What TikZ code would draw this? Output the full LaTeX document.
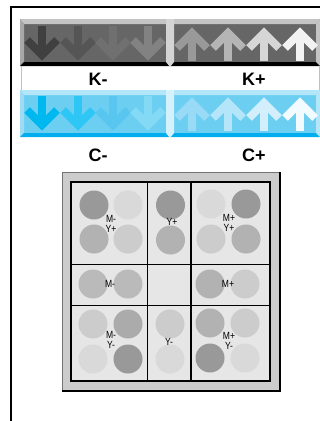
\documentclass[tikz,border=0pt]{standalone}
\usepackage{fontspec}
\setmainfont{Liberation Sans}
\newfontfamily\narrowfont[FakeStretch=0.82]{Liberation Sans}
\usepackage{xcolor}

% bar colours
\definecolor{kbase}{HTML}{666666}
\definecolor{ktop}{HTML}{C4C4C4}
\definecolor{kside}{HTML}{A8A8A8}
\definecolor{kbottom}{HTML}{000000}
\definecolor{kdiv}{HTML}{D4D4D4}
\definecolor{cbase}{HTML}{6CCFF2}
\definecolor{ctop}{HTML}{B2E6F8}
\definecolor{cside}{HTML}{9EDCF5}
\definecolor{cbottom}{HTML}{00AEEF}
\definecolor{cdiv}{HTML}{D4F1FC}
% arrow colours
\definecolor{kdnA}{HTML}{404040}
\definecolor{kdnB}{HTML}{555555}
\definecolor{kdnC}{HTML}{707070}
\definecolor{kdnD}{HTML}{828282}
\definecolor{kupA}{HTML}{999999}
\definecolor{kupB}{HTML}{B5B5B5}
\definecolor{kupC}{HTML}{D6D6D6}
\definecolor{kupD}{HTML}{F2F2F2}
\definecolor{cdnA}{HTML}{00B8F0}
\definecolor{cdnB}{HTML}{2EC6F4}
\definecolor{cdnC}{HTML}{58C6EE}
\definecolor{cdnD}{HTML}{84D9F5}
\definecolor{cupA}{HTML}{99DBF6}
\definecolor{cupB}{HTML}{B5E5F8}
\definecolor{cupC}{HTML}{D2EFFB}
\definecolor{cupD}{HTML}{F2FBFF}
% grid colours
\definecolor{boxgray}{HTML}{CCCCCC}
\definecolor{cellgray}{HTML}{E6E6E6}

\begin{document}
\begin{tikzpicture}[
  x=0.75pt, y=-0.75pt,
  arrowstroke/.style={line width=6pt, line join=miter, line cap=butt},
  barlabel/.style={inner sep=0pt, font=\fontsize{13.5}{14}\selectfont\bfseries},
  gridlabel/.style={inner sep=0pt, align=center, font=\narrowfont\fontsize{7.8}{7.5}\selectfont},
  gridline/.style={line width=1.1pt, black},
  spot/.style={radius=14.5},
]
\useasboundingbox (0,0) rectangle (320,421);

% frame
\draw[line width=1.5pt] (11,421) -- (11,7) -- (320,7);

% the two bevelled bars
\foreach \y/\base/\top/\side/\bottom/\div in {19/kbase/ktop/kside/kbottom/kdiv, 90/cbase/ctop/cside/cbottom/cdiv} {
  \fill[\base] (20,\y) rectangle (320,\y+47);
  \fill[\top] (20,\y) -- (320,\y) -- (316,\y+5) -- (24,\y+5) -- cycle;
  \fill[\side] (20,\y) -- (24,\y+5) -- (24,\y+43) -- (20,\y+47) -- cycle;
  \fill[\bottom] (20,\y+47) -- (24,\y+43) -- (316,\y+43) -- (320,\y+47) -- cycle;
  \fill[\top] (316,\y+5) -- (320,\y) -- (320,\y+47) -- (316,\y+43) -- cycle;
  \fill[\div] (166,\y) -- (174,\y) -- (174,\y+43) -- (170,\y+48) -- (166,\y+43) -- cycle;
}
\draw[cyan!50, line width=0.6pt] (21,66) -- (21,90) (319,66) -- (319,90);

% down arrows
\foreach \cx/\kc/\cc in {42/kdnA/cdnA, 78/kdnB/cdnB, 113/kdnC/cdnC, 148/kdnD/cdnD} {
  \draw[arrowstroke,\kc] (\cx,26) -- (\cx,55);
  \draw[arrowstroke,\kc] (\cx-15,40) -- (\cx,55) -- (\cx+15,40);
  \draw[arrowstroke,\cc] (\cx,96) -- (\cx,125);
  \draw[arrowstroke,\cc] (\cx-15,110) -- (\cx,125) -- (\cx+15,110);
}
% up arrows
\foreach \cx/\kc/\cc in {192/kupA/cupA, 228/kupB/cupB, 264/kupC/cupC, 300/kupD/cupD} {
  \draw[arrowstroke,\kc] (\cx,61) -- (\cx,33);
  \draw[arrowstroke,\kc] (\cx-15,48) -- (\cx,33) -- (\cx+15,48);
  \draw[arrowstroke,\cc] (\cx,131) -- (\cx,103);
  \draw[arrowstroke,\cc] (\cx-15,118) -- (\cx,103) -- (\cx+15,118);
}

% bar labels
\node[barlabel] (kMinus) at (98,79) {K-};
\node[barlabel] (kPlus) at (254,79) {K+};
\node[barlabel] (cMinus) at (98,155) {C-};
\node[barlabel] (cPlus) at (254,155) {C+};

% grid box
\fill[boxgray] (62,172) rectangle (280,391);
\draw[black!55, line width=0.6pt] (62,391) -- (62,172) -- (280,172);
\draw[black, line width=0.8pt] (280,172) -- (280,391) -- (62,391);
\fill[cellgray] (71,182) rectangle (270,381);

% spots
\foreach \px/\py/\shade in {
  94/205/40, 128/205/15, 94/239/30, 128/239/20,
  170.5/205/40, 170.5/240/30,
  211/204/15, 246/204/40, 211/239/20, 246/239/30,
  93/284/27, 128/284/27,
  210/284/30, 245/284/20,
  93/324/20, 128/324/33, 93/359/15, 128/359/40,
  170/324/20, 170/359/15,
  210/323/30, 245/323/20, 210/358/40, 245/358/15} {
  \fill[black!\shade, spot] (\px,\py) circle;
}

% grid lines
\draw[gridline] (71,182) rectangle (270,381);
\draw[gridline] (147.5,182) -- (147.5,381) (191,182) -- (191,381)
  (71,264.5) -- (270,264.5) (71,305.5) -- (270,305.5);

% cell labels
\node[gridlabel] (topLeft) at (111,224) {M-\\Y+};
\node[gridlabel] (topMid) at (172,222) {Y+};
\node[gridlabel] (topRight) at (229,223) {M+\\Y+};
\node[gridlabel] (midLeft) at (110,284) {M-};
\node[gridlabel] (midRight) at (228,284) {M+};
\node[gridlabel] (botLeft) at (111,340) {M-\\Y-};
\node[gridlabel] (botMid) at (169,342) {Y-};
\node[gridlabel] (botRight) at (229,341) {M+\\Y-};
\end{tikzpicture}
\end{document}
